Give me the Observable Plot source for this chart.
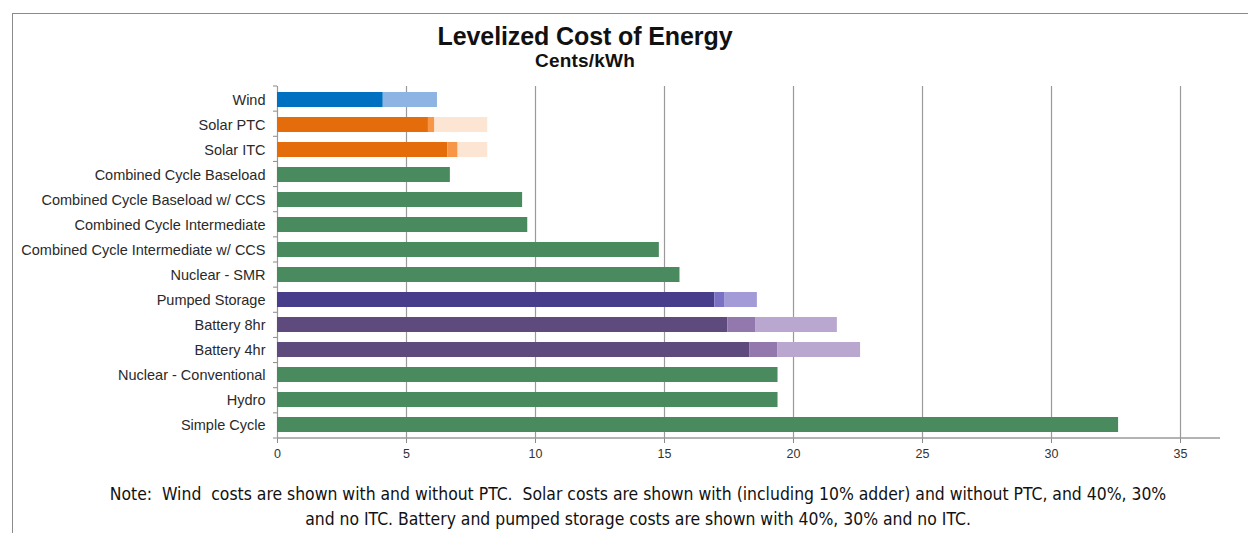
<!DOCTYPE html>
<html>
<head>
<meta charset="utf-8">
<script src="https://cdn.jsdelivr.net/npm/d3@7"></script>
<script src="https://cdn.jsdelivr.net/npm/@observablehq/plot@0.6"></script>
<style>
  html, body { margin: 0; padding: 0; background: #fff; width: 1248px; height: 533px; overflow: hidden; }
  #wrap { position: relative; width: 1248px; height: 533px; }
  #border { position: absolute; left: 12px; top: 13px; right: -2px; bottom: -2px; border-top: 1.5px solid #8a8a8a; border-left: 1.5px solid #8a8a8a; }
  #title { position: absolute; left: 385px; width: 400px; top: 21px; text-align: center; font-family: "Liberation Sans", Arial, sans-serif; font-weight: bold; color: #111; }
  #title .t { font-size: 25px; line-height: 30px; letter-spacing: -0.1px; }
  #title .s { font-size: 19px; line-height: 20px; letter-spacing: 0.2px; }
  #chart { position: absolute; left: 0; top: 76px; }
  #note { position: absolute; left: 40px; width: 1196px; top: 482px; text-align: center; font-family: "Liberation Sans Narrow", "DejaVu Sans Condensed", Arial, sans-serif; font-size: 17.4px; line-height: 25px; color: #111; }
</style>
</head>
<body>
<div id="wrap">
  <div id="border"></div>
  <div id="title"><div class="t">Levelized Cost of Energy</div><div class="s">Cents/kWh</div></div>
  <div id="chart"></div>
  <div id="note">Note:&nbsp; Wind&nbsp; costs are shown with and without PTC.&nbsp; Solar costs are shown with (including 10% adder) and without PTC, and 40%, 30%<br>and no ITC. Battery and pumped storage costs are shown with 40%, 30% and no ITC.</div>
</div>
<script>
const categories = [
  "Wind", "Solar PTC", "Solar ITC", "Combined Cycle Baseload",
  "Combined Cycle Baseload w/ CCS", "Combined Cycle Intermediate",
  "Combined Cycle Intermediate w/ CCS", "Nuclear - SMR", "Pumped Storage",
  "Battery 8hr", "Battery 4hr", "Nuclear - Conventional", "Hydro", "Simple Cycle"
];
// cumulative segment ends (cents/kWh)
const level1 = [4.1, 5.85, 6.6, 6.7, 9.5, 9.7, 14.8, 15.6, 16.95, 17.45, 18.3, 19.4, 19.4, 32.6];
const level2 = [null, 6.1, 7.0, null, null, null, null, null, 17.35, 18.55, 19.4, null, null, null];
const level3 = [6.2, 8.15, 8.15, null, null, null, null, null, 18.6, 21.7, 22.6, null, null, null];
const groups = ["wind", "solar", "solar", "gas", "gas", "gas", "gas", "gas", "pumped", "battery", "battery", "gas", "gas", "gas"];
const palette = {
  wind:    ["#0070c0", "#0070c0", "#8db4e2"],
  solar:   ["#e46c0a", "#f79646", "#fde5d3"],
  gas:     ["#4a8a5f", "#4a8a5f", "#4a8a5f"],
  pumped:  ["#483d8b", "#7a70c4", "#a39ad8"],
  battery: ["#5f4a7e", "#9378ad", "#b9a7d0"]
};
const xTicks = [0, 5, 10, 15, 20, 25, 30, 35];

const segments = [];
categories.forEach((c, i) => {
  const ends = [level1[i], level2[i], level3[i]];
  let start = 0;
  ends.forEach((e, k) => {
    if (e == null) return;
    segments.push({cat: c, x1: start, x2: e, fill: palette[groups[i]][k]});
    start = e;
  });
});

const chart = Plot.plot({
  width: 1248,
  height: 392,
  marginTop: 10,
  marginBottom: 30,
  marginLeft: 277,
  marginRight: 28,
  style: {fontFamily: "'Liberation Sans', Arial, sans-serif", background: "transparent"},
  x: {domain: [0, 36.55]},
  y: {domain: categories, paddingInner: 0.4, paddingOuter: 0.2},
  color: {type: "identity"},
  marks: [
    Plot.ruleX(xTicks, {stroke: "#9a9a9a", strokeWidth: 1.2}),
    Plot.barX(segments, {y: "cat", x1: "x1", x2: "x2", fill: "fill", inset: 0}),
    Plot.axisX({ticks: xTicks, tickSize: 5, tickPadding: 6, stroke: "#8a8a8a", fill: "#333", fontSize: 12.5, label: null}),
    Plot.axisY({tickSize: 0, tickPadding: 12, fill: "#2a2a2a", fontSize: 14.5, label: null})
  ]
});
document.getElementById("chart").appendChild(chart);

// axis line and category boundary ticks, positioned from the scales
const xs = chart.scale("x"), ys = chart.scale("y");
const svg = d3.select(chart);
const x0 = xs.apply(0);
const yTop = ys.range[0], yBot = ys.range[1];
svg.append("line").attr("x1", x0).attr("x2", xs.range[1]).attr("y1", yBot).attr("y2", yBot)
  .attr("stroke", "#9a9a9a").attr("stroke-width", 1.5);
const step = (yBot - yTop) / categories.length;
d3.range(categories.length + 1).forEach(i => {
  const y = yTop + i * step;
  svg.append("line").attr("x1", x0 - 4).attr("x2", x0).attr("y1", y).attr("y2", y)
    .attr("stroke", "#8a8a8a").attr("stroke-width", 1);
});
</script>
</body>
</html>
